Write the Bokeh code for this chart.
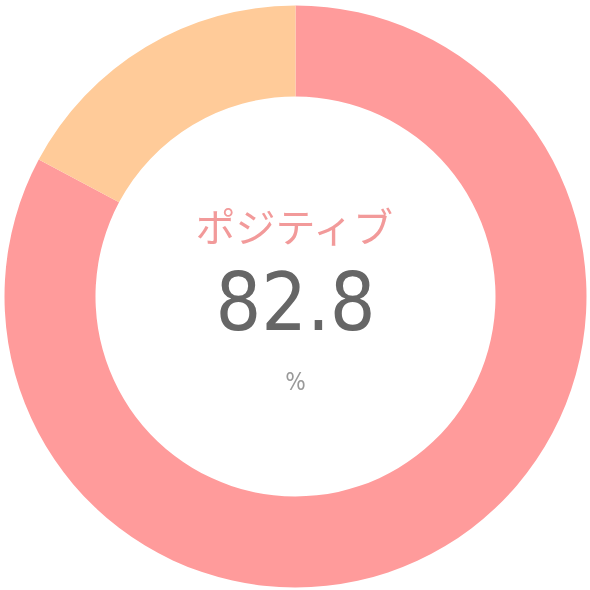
from bokeh.plotting import figure
from bokeh.models import Range1d, ColumnDataSource
from bokeh.core.properties import value
from bokeh.embed import file_html
from bokeh.resources import INLINE
import math

labels = ["ポジティブ", "ネガティブ"]
values = [82.8, 17.2]
colors = ["#ff9b9b", "#ffcb99"]
center_label = "ポジティブ"
center_value = "82.8"
center_unit = "%"

W = H = 590
p = figure(width=W, height=H, x_range=Range1d(0, W), y_range=Range1d(0, H),
           output_backend="svg", toolbar_location=None, min_border=0,
           background_fill_color="white", border_fill_color="white",
           outline_line_color=None,
           styles={"position": "fixed", "left": "0px", "top": "0px"})
p.axis.visible = False
p.grid.visible = False

total = sum(values)
cx, cy = 295, H - 296
starts, ends = [], []
acc = 0.0
for v in values:
    a0 = math.pi / 2 - 2 * math.pi * acc / total
    a1 = math.pi / 2 - 2 * math.pi * (acc + v) / total
    starts.append(a1)
    ends.append(a0)
    acc += v

src = ColumnDataSource(dict(x=[cx] * len(values), y=[cy] * len(values),
                            start=starts, end=ends, color=colors, label=labels))
p.annular_wedge(x="x", y="y", inner_radius=200, outer_radius=291,
                start_angle="start", end_angle="end", fill_color="color",
                line_color=None, source=src)

cond = "'DejaVu Sans Condensed', 'Roboto Condensed', 'Liberation Sans Narrow', Roboto"
p.text(x=[cx], y=[H - 224], text=[center_label], text_font=value("Noto Sans CJK JP"),
       text_font_size="40px", text_color="#f29a9a", text_align="center",
       text_baseline="middle")
p.text(x=[cx], y=[H - 300], text=[center_value], text_font=value(cond),
       text_font_size="80px", text_color="#666666", text_align="center",
       text_baseline="middle")
p.text(x=[cx], y=[H - 381], text=[center_unit], text_font=value(cond),
       text_font_size="24px", text_color="#999999", text_align="center",
       text_baseline="middle")

open("out.html", "w").write(file_html(p, INLINE))
